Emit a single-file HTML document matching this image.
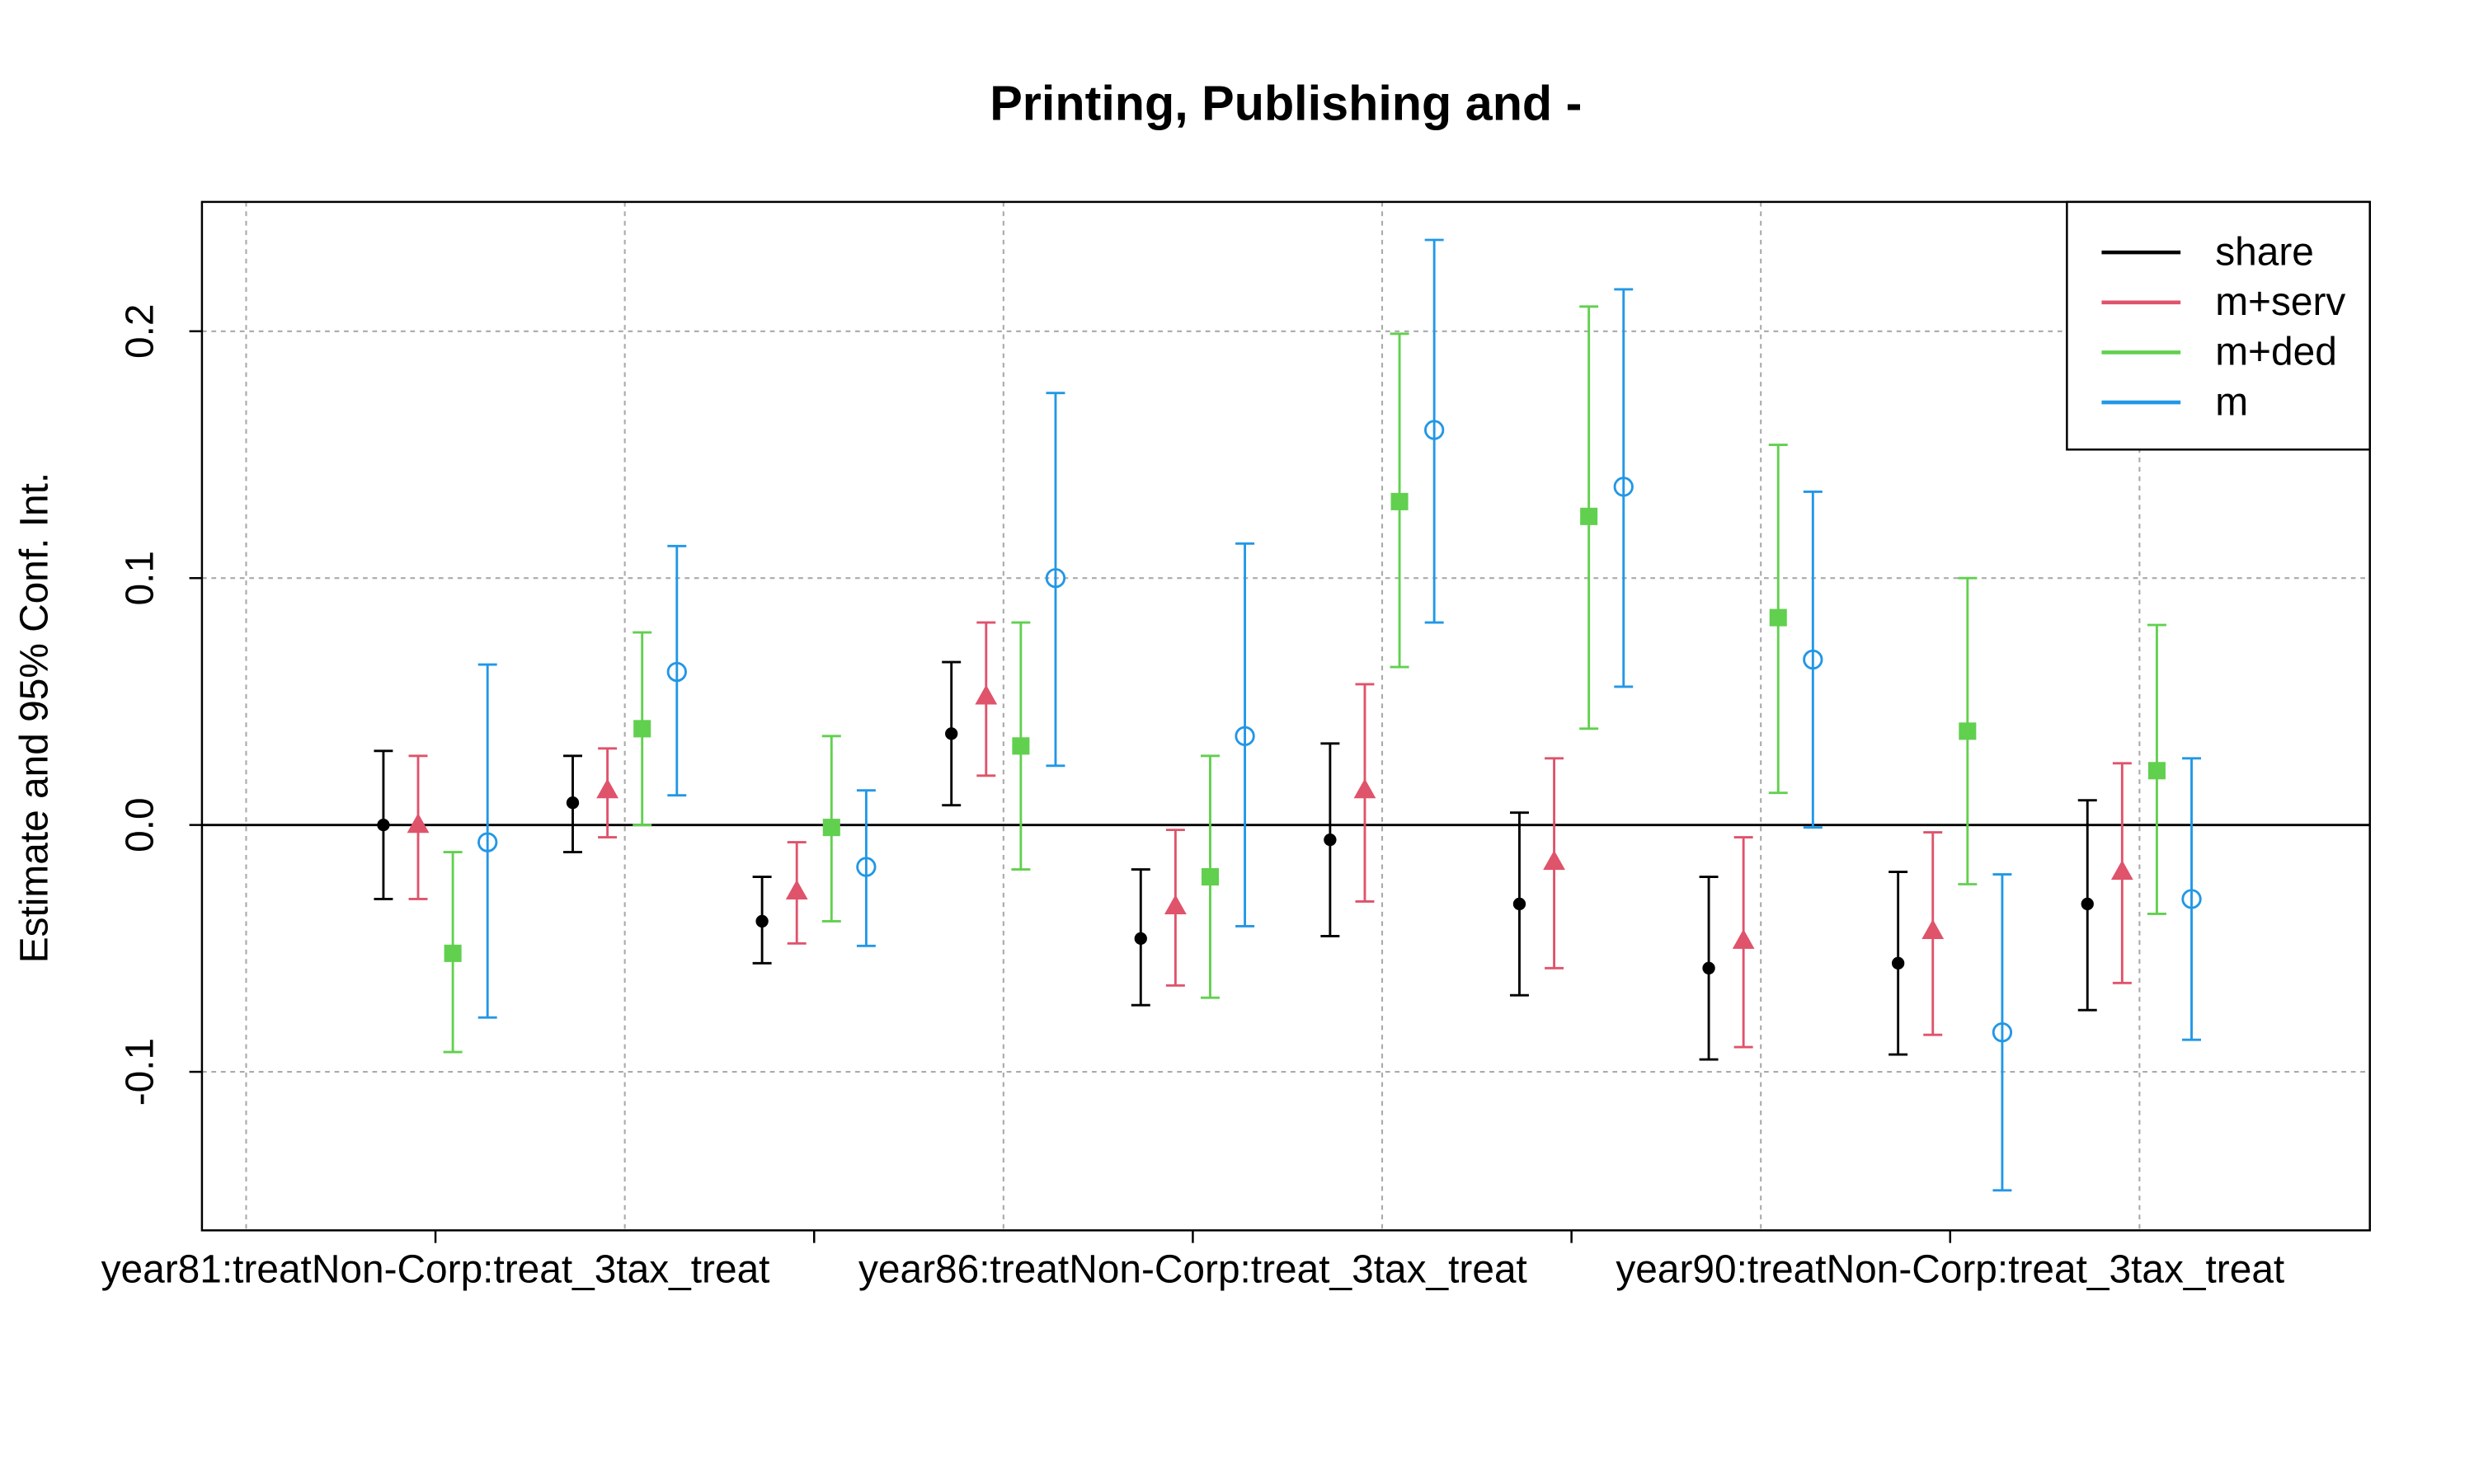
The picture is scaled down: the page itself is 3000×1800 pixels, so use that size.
<!DOCTYPE html>
<html><head><meta charset="utf-8"><style>
html,body{margin:0;padding:0;background:#fff}
svg{display:block}
text{font-family:"Liberation Sans",Arial,sans-serif}
</style></head><body>
<svg id="chart" width="3000" height="1800" viewBox="0 0 1568 940.8" preserveAspectRatio="none" xmlns="http://www.w3.org/2000/svg">
<rect width="1568" height="940.8" fill="#fff"/>
<text x="815" y="76" text-anchor="middle" font-size="31" font-weight="bold">Printing, Publishing and -</text>
<text transform="translate(30,455) rotate(-90)" text-anchor="middle" font-size="25">Estimate and 95% Conf. Int.</text>
<g id="grid"></g>
<g id="marks"></g>
<rect x="128" y="128" width="1374" height="652" fill="none" stroke="#000" stroke-width="1.3"/>
<g id="axes"></g>
<g id="legend">
<rect x="1310" y="128" width="192" height="157" fill="#fff" stroke="#000" stroke-width="1.3"/>
</g>
</svg>
<script>
const categories=["year81:treatNon-Corp:treat_3tax_treat","g2","g3","g4","year86:treatNon-Corp:treat_3tax_treat","g6","g7","g8","year90:treatNon-Corp:treat_3tax_treat","g10"];
const seriesNames=["share","m+serv","m+ded","m"];
const seriesColors=["#000000","#DF536B","#61D04F","#2297E6"];
const shareEst=[0.0,0.009,-0.039,0.037,-0.046,-0.006,-0.032,-0.058,-0.056,-0.032];
const shareLo=[-0.03,-0.011,-0.056,0.008,-0.073,-0.045,-0.069,-0.095,-0.093,-0.075];
const shareHi=[0.03,0.028,-0.021,0.066,-0.018,0.033,0.005,-0.021,-0.019,0.01];
const servEst=[0.0,0.014,-0.027,0.052,-0.033,0.014,-0.015,-0.047,-0.043,-0.019];
const servLo=[-0.03,-0.005,-0.048,0.02,-0.065,-0.031,-0.058,-0.09,-0.085,-0.064];
const servHi=[0.028,0.031,-0.007,0.082,-0.002,0.057,0.027,-0.005,-0.003,0.025];
const dedEst=[-0.052,0.039,-0.001,0.032,-0.021,0.131,0.125,0.084,0.038,0.022];
const dedLo=[-0.092,0,-0.039,-0.018,-0.07,0.064,0.039,0.013,-0.024,-0.036];
const dedHi=[-0.011,0.078,0.036,0.082,0.028,0.199,0.21,0.154,0.1,0.081];
const mEst=[-0.007,0.062,-0.017,0.1,0.036,0.16,0.137,0.067,-0.084,-0.03];
const mLo=[-0.078,0.012,-0.049,0.024,-0.041,0.082,0.056,-0.001,-0.148,-0.087];
const mHi=[0.065,0.113,0.014,0.175,0.114,0.237,0.217,0.135,-0.02,0.027];
const yTicks=[-0.1,0,0.1,0.2];
const yTickLabels=["-0.1","0.0","0.1","0.2"];

const NS="http://www.w3.org/2000/svg";
const Y=v=>523-v*1565;
const X=i=>276+120*i;
const offs=[-33,-11,11,33];
function mk(tag,attrs,parent){const e=document.createElementNS(NS,tag);for(const k in attrs)e.setAttribute(k,attrs[k]);parent.appendChild(e);return e;}
const grid=document.getElementById('grid'),marks=document.getElementById('marks'),axes=document.getElementById('axes'),legend=document.getElementById('legend');
yTicks.forEach(v=>{const l=mk('line',{x1:128,x2:1502,y1:Y(v),y2:Y(v),stroke:'#aaa','stroke-dasharray':'3,3','stroke-width':1.1},grid);

});
[-1,1,3,5,7,9].forEach(i=>{const l=mk('line',{x1:X(i),x2:X(i),y1:128,y2:780,stroke:'#aaa','stroke-dasharray':'3,3','stroke-width':1.1},grid);

});
const z=mk('line',{x1:128,x2:1502,y1:Y(0),y2:Y(0),stroke:'#000','stroke-width':1.5},grid);


yTicks.forEach((v,k)=>{const t=mk('line',{x1:120,x2:128,y1:Y(v),y2:Y(v),stroke:'#000','stroke-width':1.3},axes);


const tx=mk('text',{transform:`translate(97,${Y(v)}) rotate(-90)`,'text-anchor':'middle','font-size':25},axes);tx.textContent=yTickLabels[k];

});
[0,2,4,6,8].forEach(i=>{const t=mk('line',{x1:X(i),x2:X(i),y1:780,y2:788,stroke:'#000','stroke-width':1.3},axes);

});
[0,4,8].forEach(i=>{const tx=mk('text',{x:X(i),y:813,'text-anchor':'middle','font-size':25},axes);tx.textContent=categories[i];

});
const est=[shareEst,servEst,dedEst,mEst],lo=[shareLo,servLo,dedLo,mLo],hi=[shareHi,servHi,dedHi,mHi];
for(let s=0;s<4;s++){const c=seriesColors[s];
for(let i=0;i<categories.length;i++){const x=X(i)+offs[s];
const g=mk('g',{},marks);


const a={stroke:c,'stroke-width':1.5};
mk('line',Object.assign({x1:x,x2:x,y1:Y(lo[s][i]),y2:Y(hi[s][i])},a),g);
mk('line',Object.assign({x1:x-6,x2:x+6,y1:Y(lo[s][i]),y2:Y(lo[s][i])},a),g);
mk('line',Object.assign({x1:x-6,x2:x+6,y1:Y(hi[s][i]),y2:Y(hi[s][i])},a),g);
const y=Y(est[s][i]);
if(s===0)mk('circle',{cx:x,cy:y,r:4,fill:c},g);
else if(s===1)mk('polygon',{points:`${x},${y-7.5} ${x-7},${y+5} ${x+7},${y+5}`,fill:c},g);
else if(s===2)mk('rect',{x:x-5.5,y:y-5.5,width:11,height:11,fill:c},g);
else mk('circle',{cx:x,cy:y,r:5.6,fill:'none',stroke:c,'stroke-width':1.5},g);
}}
seriesNames.forEach((n,k)=>{const y=160+k*31.7;
const g=mk('g',{},legend);


mk('line',{x1:1332,x2:1382,y1:y,y2:y,stroke:seriesColors[k],'stroke-width':2.4},g);
const t=mk('text',{x:1404,y:y+8,'font-size':25},g);t.textContent=n;});
</script>
</body></html>
